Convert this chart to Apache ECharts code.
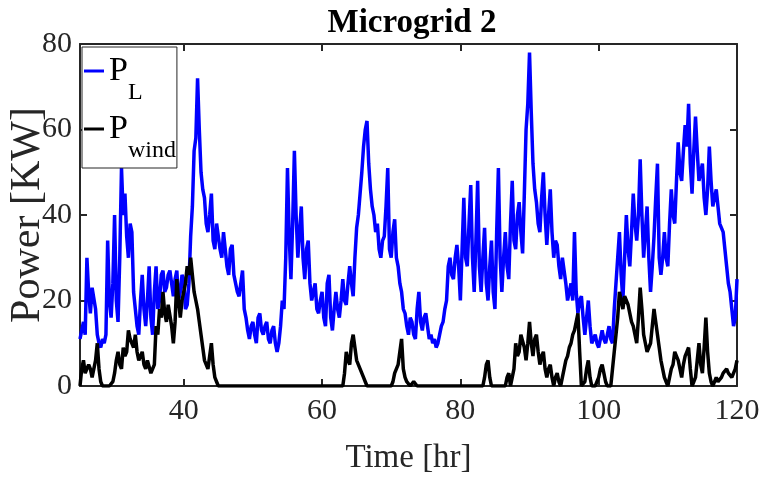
<!DOCTYPE html>
<html><head><meta charset="utf-8">
<script src="https://cdn.jsdelivr.net/npm/echarts@6/dist/echarts.min.js"></script>
<style>html,body{margin:0;padding:0;background:#fff}#c{width:761px;height:491px}</style>
</head><body><div id="c"></div>
<script>
// Sampling grid of the time axis (hours)
const hoursStart = 25;
const hoursStep = 0.25;
// Load power P_L [kW], one value per quarter hour from 25 h to 120 h (4 per hour)
const loadKW = [
  11,13,15,12, 30,22,17,23, 23,18,12,10, 9,11,10,12, 34,20,16,24,
  40,20,15,30, 51,40,45,35, 30,38,36,22, 18,14,12,20, 26,18,14,20,
  28,16,12,22, 28,18,20,26, 27,22,23,26, 27,24,21,25, 27,20,22,26,
  25,18,19,24, 35,42,55,58, 72,60,50,46, 44,38,36,40, 45,34,32,38,
  38,32,30,36, 36,28,26,32, 33,26,24,22, 21,24,27,18, 16,13,11,14,
  15,12,10,16, 17,13,12,14, 15,11,10,13, 14,10,8,10, 14,20,18,30,
  51,35,25,38, 55,40,30,36, 42,30,25,32, 34,24,20,22, 24,18,17,20,
  22,16,14,24, 26,16,13,18, 22,18,16,20, 25,20,19,24, 28,24,21,30,
  37,40,45,50, 56,60,62,52, 46,42,40,36, 38,32,30,34, 35,42,51,32,
  30,36,39,30, 28,24,22,18, 17,14,12,16, 15,12,11,18, 22,15,13,16,
  17,14,11,12, 10,11,9,10, 12,14,15,18, 20,28,30,26, 25,30,33,28,
  20,32,44,30, 28,38,47,30, 22,34,48,28, 22,30,37,24, 20,28,34,22,
  18,36,51,30, 22,30,36,28, 25,38,48,34, 32,40,43,36, 31,45,60,66,
  78,64,52,46, 43,38,36,44, 50,40,33,40, 46,36,30,34, 33,28,25,30,
  30,24,20,22, 24,20,36,22, 17,20,21,16, 12,16,20,14, 10,11,12,10,
  9,11,13,11, 10,12,14,11, 10,18,24,30, 36,26,20,30, 40,32,28,36,
  45,38,34,40, 53,40,30,36, 42,30,22,28, 35,44,52,30, 26,30,36,30,
  28,38,46,40, 38,48,57,50, 48,55,61,56, 66,52,45,55, 63,55,48,50,
  52,44,40,46, 56,48,42,44, 46,42,38,37, 36,32,28,24, 22,18,14,16,
  25
];
// Wind power P_wind [kW], same sampling
const windKW = [
  0,4,6,3, 3,5,4,2, 2,6,10,4, 1,0,0,0, 0,0,0,1,
  3,6,8,5, 4,9,7,8, 13,11,11,9, 12,8,6,7, 8,5,4,6,
  6,3,4,5, 14,12,18,16, 22,17,15,19, 19,14,10,15, 25,20,16,20,
  20,24,28,26, 30,26,22,20, 18,15,12,9, 6,5,4,7, 10,5,2,1,
  0,0,0,0, 0,0,0,0, 0,0,0,0, 0,0,0,0, 0,0,0,0,
  0,0,0,0, 0,0,0,0, 0,0,0,0, 0,0,0,0, 0,0,0,0,
  0,0,0,0, 0,0,0,0, 0,0,0,0, 0,0,0,0, 0,0,0,0,
  0,0,0,0, 0,0,0,0, 0,0,0,0, 0,3,8,6, 5,10,12,9,
  6,5,4,3, 2,1,0,0, 0,0,0,0, 0,0,0,0, 0,0,0,0,
  0,1,3,4, 5,8,11,4, 2,1,1,0, 0,1,1,0, 0,0,0,0,
  0,0,0,0, 0,0,0,0, 0,0,0,0, 0,0,0,0, 0,0,0,0,
  0,0,0,0, 0,0,0,0, 0,0,0,0, 0,0,2,5, 6,2,0,0,
  0,0,0,0, 0,0,0,2, 3,0,0,4, 10,7,8,12, 12,9,6,10,
  15,10,7,11, 12,8,5,7, 8,4,2,4, 5,2,0,2, 3,1,0,2,
  4,6,7,9, 10,12,13,15, 17,8,0,0, 1,4,6,2, 0,0,0,1,
  2,4,5,3, 1,0,0,0, 4,8,12,16, 22,20,18,21, 21,19,17,15,
  14,12,10,16, 23,18,12,10, 8,9,10,14, 18,15,12,9, 6,4,2,1,
  0,2,4,5, 8,7,6,4, 2,5,7,8, 9,4,0,1, 2,6,10,5,
  3,9,16,8, 3,1,0,0, 2,1,1,2, 3,3,4,3, 3,2,2,4,
  6
];
const seriesNames = ['PL', 'Pwind'];
const seriesSubs = ['L', 'wind'];
const xTickValues = [40, 60, 80, 100, 120];

const FONT = '"Liberation Serif","Times New Roman",serif';
const AX = '#262626';

function toPoints(vals) {
  return vals.map((v, i) => [hoursStart + i * hoursStep, v]);
}

const chart = echarts.init(document.getElementById('c'), null, {renderer: 'canvas'});

const boxLine = {show: true, onZero: false, lineStyle: {color: AX, width: 2}};
const tickStyle = {show: true, inside: true, length: 7, lineStyle: {color: AX, width: 2}};
const lblStyle = {color: AX, fontFamily: FONT, fontSize: 30};

chart.setOption({
  animation: false,
  backgroundColor: '#fff',
  title: {
    text: 'Microgrid 2', left: 407, top: 2, textAlign: 'center',
    textStyle: {fontFamily: FONT, fontWeight: 'bold', fontSize: 33, color: '#000'}
  },
  grid: {left: 80, right: 24, top: 44, bottom: 105, containLabel: false, outerBoundsMode: 'none'},
  legend: {
    orient: 'vertical', left: 82, top: 47,
    padding: [7, 1, 5, 2], itemGap: 7,
    itemWidth: 20, itemHeight: 3, icon: 'rect',
    borderColor: AX, borderWidth: 1, backgroundColor: '#fff',
    data: seriesNames,
    formatter: name => '{p|P}{s|' + seriesSubs[seriesNames.indexOf(name)] + '}',
    textStyle: {
      rich: {
        p: {fontFamily: FONT, fontSize: 34, color: '#000', lineHeight: 34, verticalAlign: 'top'},
        s: {fontFamily: FONT, fontSize: 24, color: '#000', lineHeight: 24, verticalAlign: 'top', padding: [27, 0, 0, 0]}
      }
    }
  },
  xAxis: [{
    type: 'value', min: 25, max: 120, position: 'bottom',
    axisLine: boxLine,
    axisTick: Object.assign({customValues: xTickValues}, tickStyle),
    axisLabel: Object.assign({customValues: xTickValues, margin: 10}, lblStyle),
    splitLine: {show: false},
    name: 'Time [hr]', nameLocation: 'middle', nameGap: 56,
    nameTextStyle: {fontFamily: FONT, fontSize: 33, color: AX}
  }, {
    type: 'value', min: 25, max: 120, position: 'top',
    axisLine: boxLine,
    axisTick: Object.assign({customValues: xTickValues}, tickStyle),
    axisLabel: {show: false}, splitLine: {show: false}
  }],
  yAxis: [{
    type: 'value', min: 0, max: 80, interval: 20, position: 'left',
    axisLine: boxLine, axisTick: tickStyle,
    axisLabel: Object.assign({margin: 8}, lblStyle),
    splitLine: {show: false},
    name: 'Power [KW]', nameLocation: 'middle', nameGap: 31, nameMoveOverlap: false,
    nameTextStyle: {fontFamily: FONT, fontSize: 42, color: AX}
  }, {
    type: 'value', min: 0, max: 80, interval: 20, position: 'right',
    axisLine: boxLine, axisTick: tickStyle,
    axisLabel: {show: false}, splitLine: {show: false}
  }],
  series: [{
    name: seriesNames[0], type: 'line', data: toPoints(loadKW),
    showSymbol: false, symbol: 'none',
    lineStyle: {color: '#0000ff', width: 3.5}, itemStyle: {color: '#0000ff'}
  }, {
    name: seriesNames[1], type: 'line', data: toPoints(windKW),
    showSymbol: false, symbol: 'none',
    lineStyle: {color: '#000000', width: 3.5}, itemStyle: {color: '#000000'}
  }]
});
</script></body></html>
